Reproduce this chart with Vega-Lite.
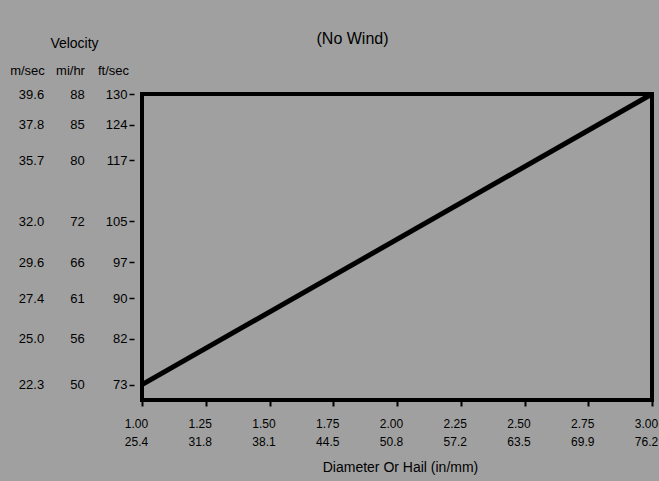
{
  "$schema": "https://vega.github.io/schema/vega-lite/v6.json",
  "width": 510,
  "height": 306,
  "autosize": {"type": "none"},
  "padding": {"left": 142, "top": 94, "right": 7, "bottom": 81},
  "background": "#a0a0a0",
  "config": {
    "view": {"stroke": "#000000", "strokeWidth": 4},
    "font": "Liberation Sans",
    "axis": {
      "labelFont": "Liberation Sans",
      "titleFont": "Liberation Sans",
      "labelColor": "#000000",
      "titleColor": "#000000",
      "labelFontSize": 13,
      "titleFontSize": 13,
      "titleFontWeight": "normal",
      "grid": false,
      "domain": false,
      "labelFlush": false,
      "labelOverlap": false
    }
  },
  "data": {"values": [{"diameter": 1.0, "ftsec": 73}, {"diameter": 3.0, "ftsec": 130}]},
  "layer": [
    {
      "mark": {"type": "line", "color": "#000000", "strokeWidth": 5},
      "encoding": {
        "x": {
          "field": "diameter", "type": "quantitative",
          "scale": {"domain": [1, 3], "nice": false, "zero": false},
          "axis": {
            "orient": "bottom",
            "values": [1, 1.25, 1.5, 1.75, 2, 2.25, 2.5, 2.75, 3],
            "labelExpr": "[format(datum.value,'.2f'), datum.value==1?'25.4':datum.value==1.25?'31.8':datum.value==1.5?'38.1':datum.value==1.75?'44.5':datum.value==2?'50.8':datum.value==2.25?'57.2':datum.value==2.5?'63.5':datum.value==2.75?'69.9':'76.2']",
            "labelFont": "Liberation Sans",
            "labelFontSize": 12,
            "tickSize": 6, "tickWidth": 2, "tickColor": "#000000",
            "labelPadding": 12, "labelLineHeight": 18, "labelOffset": -6,
            "title": "Diameter Or Hail (in/mm)",
            "titleFontSize": 14,
            "titleX": 258, "titleY": 60, "titleBaseline": "top", "titleAlign": "center"
          }
        },
        "y": {
          "field": "ftsec", "type": "quantitative",
          "scale": {"domain": [70, 130], "nice": false, "zero": false},
          "axis": {
            "orient": "left",
            "values": [73, 82, 90, 97, 105, 117, 124, 130],
            "format": "d",
            "offset": 8, "tickSize": 5, "tickWidth": 1.5, "tickColor": "#000000",
            "labelPadding": 2,
            "title": "ft/sec", "titleAngle": 0, "titleX": -21, "titleY": -24,
            "titleAlign": "center", "titleBaseline": "middle"
          }
        }
      }
    },
    {
      "mark": {"type": "line", "strokeOpacity": 0},
      "encoding": {
        "x": {"field": "diameter", "type": "quantitative", "axis": null},
        "y": {
          "field": "ftsec", "type": "quantitative",
          "axis": {
            "orient": "left",
            "values": [73, 82, 90, 97, 105, 117, 124, 130],
            "labelExpr": "datum.value==73?'50':datum.value==82?'56':datum.value==90?'61':datum.value==97?'66':datum.value==105?'72':datum.value==117?'80':datum.value==124?'85':'88'",
            "offset": 0, "ticks": false, "tickSize": 0,
            "labelAlign": "center", "labelPadding": 65,
            "title": "mi/hr", "titleAngle": 0, "titleX": -72, "titleY": -24,
            "titleAlign": "center", "titleBaseline": "middle"
          }
        }
      }
    },
    {
      "mark": {"type": "line", "strokeOpacity": 0},
      "encoding": {
        "x": {"field": "diameter", "type": "quantitative", "axis": null},
        "y": {
          "field": "ftsec", "type": "quantitative",
          "axis": {
            "orient": "left",
            "values": [73, 82, 90, 97, 105, 117, 124, 130],
            "labelExpr": "datum.value==73?'22.3':datum.value==82?'25.0':datum.value==90?'27.4':datum.value==97?'29.6':datum.value==105?'32.0':datum.value==117?'35.7':datum.value==124?'37.8':'39.6'",
            "offset": 0, "ticks": false, "tickSize": 0,
            "labelAlign": "center", "labelPadding": 111,
            "title": "m/sec", "titleAngle": 0, "titleX": -115, "titleY": -24,
            "titleAlign": "center", "titleBaseline": "middle"
          }
        }
      }
    },
    {
      "mark": {"type": "line", "strokeOpacity": 0},
      "encoding": {
        "x": {
          "field": "diameter", "type": "quantitative",
          "axis": {
            "orient": "top", "labels": false, "ticks": false,
            "title": "(No Wind)", "titleFontSize": 16,
            "titleX": 210, "titleY": -56, "titleAlign": "center", "titleBaseline": "middle"
          }
        },
        "y": {
          "field": "ftsec", "type": "quantitative",
          "axis": {
            "orient": "left", "labels": false, "ticks": false,
            "title": "Velocity", "titleFontSize": 14, "titleAngle": 0,
            "titleX": -68, "titleY": -51, "titleAlign": "center", "titleBaseline": "middle"
          }
        }
      }
    }
  ],
  "resolve": {"axis": {"x": "independent", "y": "independent"}}
}
